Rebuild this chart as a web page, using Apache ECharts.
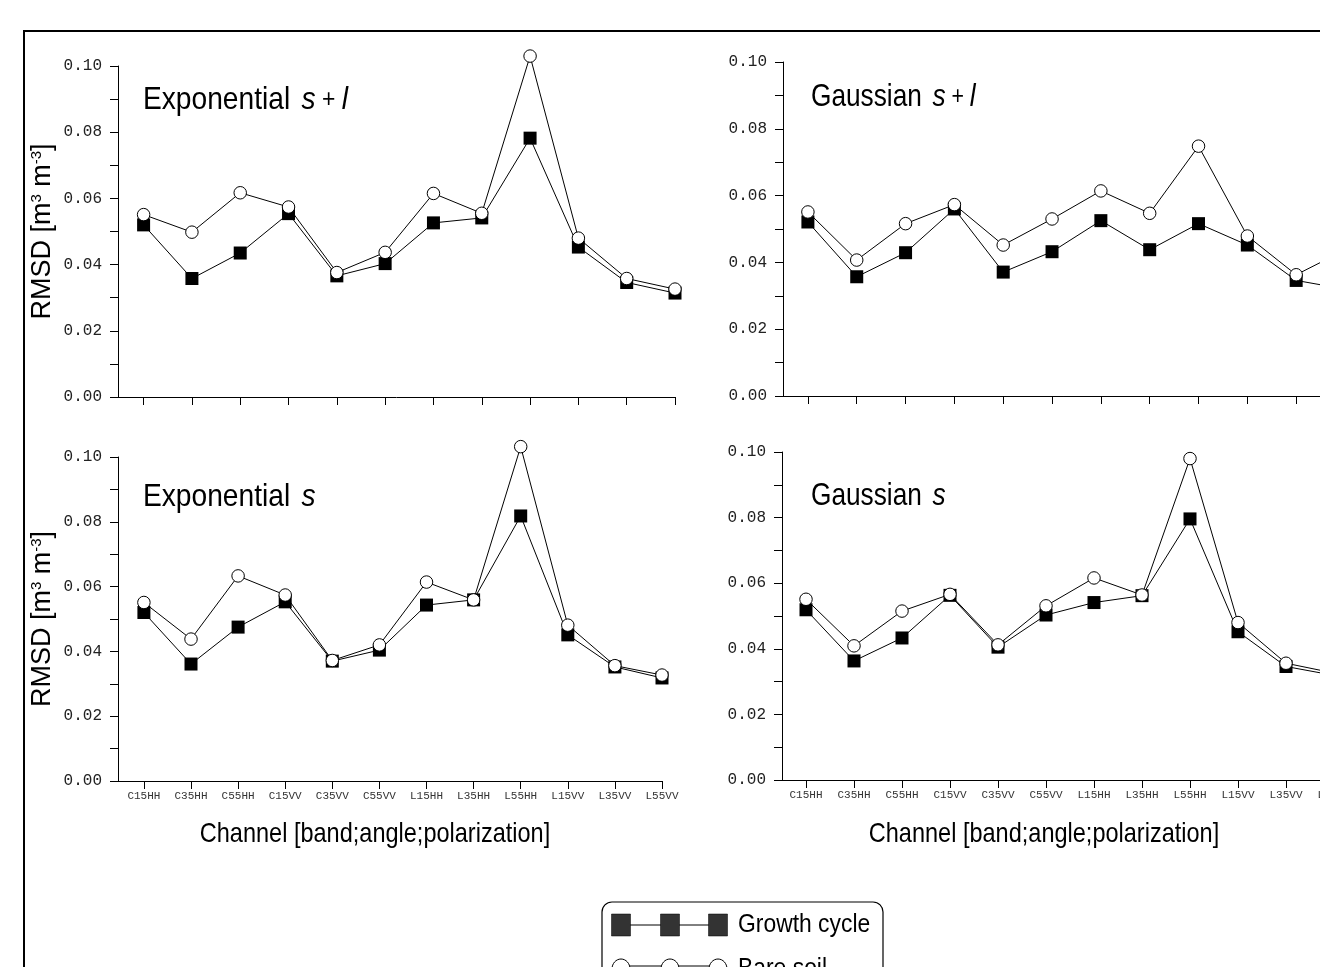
<!DOCTYPE html>
<html><head><meta charset="utf-8">
<script src="https://cdn.jsdelivr.net/npm/echarts@6/dist/echarts.min.js"></script>
<style>html,body{margin:0;padding:0;background:#fff;overflow:hidden}#c{width:1420px;height:967px}</style>
</head><body><div id="c"></div>
<script>
// ---- data ----
const channels = ['C15HH','C35HH','C55HH','C15VV','C35VV','C55VV','L15HH','L35HH','L55HH','L15VV','L35VV','L55VV'];
const yTickLabels = ['0.00','0.02','0.04','0.06','0.08','0.10'];
const seriesNames = ['Growth cycle', 'Bare soil'];
const xAxisTitle = 'Channel [band;angle;polarization]';
const panelTitles = [['Exponential', 's', '+', 'l'], ['Gaussian', 's', '+', 'l'], ['Exponential', 's'], ['Gaussian', 's']];

const expSL_growth = [0.052, 0.0358, 0.0435, 0.0554, 0.0366, 0.0403, 0.0526, 0.0541, 0.0782, 0.0453, 0.0346, 0.0314];
const expSL_bare   = [0.0551, 0.0498, 0.0617, 0.0574, 0.0376, 0.0437, 0.0615, 0.0555, 0.1030, 0.0480, 0.0358, 0.0326];
const gauSL_growth = [0.0521, 0.0357, 0.0429, 0.0560, 0.0371, 0.0432, 0.0525, 0.0438, 0.0516, 0.0452, 0.0346, 0.0320];
const gauSL_bare   = [0.0551, 0.0407, 0.0516, 0.0573, 0.0452, 0.0530, 0.0614, 0.0547, 0.0748, 0.0479, 0.0363, 0.0437];
const expS_growth  = [0.0520, 0.0361, 0.0475, 0.0553, 0.0370, 0.0404, 0.0543, 0.0559, 0.0818, 0.0451, 0.0352, 0.0318];
const expS_bare    = [0.0551, 0.0438, 0.0633, 0.0574, 0.0372, 0.0420, 0.0614, 0.0559, 0.1032, 0.0481, 0.0356, 0.0327];
const gauS_growth  = [0.0519, 0.0363, 0.0433, 0.0563, 0.0405, 0.0503, 0.0541, 0.0562, 0.0796, 0.0452, 0.0346, 0.0319];
const gauS_bare    = [0.0551, 0.0409, 0.0515, 0.0566, 0.0412, 0.0531, 0.0616, 0.0564, 0.0980, 0.0480, 0.0356, 0.0326];

const panelData = [[expSL_growth, expSL_bare], [gauSL_growth, gauSL_bare], [expS_growth, expS_bare], [gauS_growth, gauS_bare]];

// ---- layout ----
const panels = [
  {left:118, top:66, width:557, height:331, xmin:-0.53, bottom:false, yname:true, tx:143, ty:100, sx:0.88},
  {left:783, top:62, width:562, height:334, xmin:-0.51, bottom:false, yname:false, tx:811, ty:97, sx:0.82},
  {left:118, top:457, width:544, height:324, xmin:-0.55, bottom:true, yname:true, tx:143, ty:497, sx:0.88, nx:375},
  {left:782, top:452, width:552, height:328, xmin:-0.50, bottom:true, yname:false, tx:811, ty:496, sx:0.82, nx:1044}
];
const SANS = '"Liberation Sans",Arial,sans-serif';
const MONO = '"Liberation Mono","DejaVu Sans Mono",monospace';
const idx = channels.map((c,i)=>i);

const grids = [], xAxes = [], yAxes = [], series = [], graphics = [];
panels.forEach((p, i) => {
  grids.push({left:p.left, top:p.top, width:p.width, height:p.height, containLabel:false});
  xAxes.push({
    type:'value', gridIndex:i, min:p.xmin, max:11,
    axisLine:{show:true, onZero:false, lineStyle:{color:'#000', width:1}},
    axisTick:{show:true, customValues:idx, length:8, lineStyle:{color:'#000', width:1}},
    axisLabel:{show:p.bottom, customValues:idx, formatter:(v)=>channels[Math.round(v)],
      fontFamily:MONO, fontSize:11, color:'#333', margin:10},
    splitLine:{show:false}
  });
  yAxes.push({
    type:'value', gridIndex:i, min:0, max:0.1, interval:0.02,
    name: p.yname ? '{n|RMSD [m}{s|3}{n| m}{s|-3}{n|]}' : '',
    nameLocation:'middle', nameGap:62,
    nameTextStyle:{rich:{n:{fontFamily:SANS, fontSize:27, color:'#000'},
                         s:{fontFamily:SANS, fontSize:15, color:'#000', verticalAlign:'top'}}},
    axisLine:{show:true, onZero:false, lineStyle:{color:'#000', width:1}},
    axisTick:{show:true, length:8, lineStyle:{color:'#000', width:1}},
    minorTick:{show:true, splitNumber:2, length:8, lineStyle:{color:'#000', width:1}},
    axisLabel:{formatter:(v)=>yTickLabels[Math.round(v/0.02)], fontFamily:MONO, fontSize:16, color:'#222', margin:16},
    splitLine:{show:false}, minorSplitLine:{show:false}
  });
  const [g, b] = panelData[i];
  series.push({
    name:seriesNames[0], type:'line', xAxisIndex:i, yAxisIndex:i, clip:false,
    data:g.map((v,j)=>[j,v]), symbol:'rect', symbolSize:13,
    itemStyle:{color:'#000'}, lineStyle:{color:'#000', width:1}, z:2, animation:false
  });
  series.push({
    name:seriesNames[1], type:'line', xAxisIndex:i, yAxisIndex:i, clip:false,
    data:b.map((v,j)=>[j,v]), symbol:'circle', symbolSize:12.5,
    itemStyle:{color:'#fff', borderColor:'#000', borderWidth:1}, lineStyle:{color:'#000', width:1}, z:3, animation:false
  });
  const t = panelTitles[i];
  let txt = '{a|' + t[0] + '}{g| }{i|' + t[1] + '}';
  if (t.length > 2) txt += '{p| ' + t[2] + ' }{i|' + t[3] + '}';
  graphics.push({
    type:'text', x:p.tx, y:p.ty, z:10, scaleX:p.sx,
    style:{text:txt, verticalAlign:'middle', align:'left',
      rich:{a:{fontFamily:SANS, fontSize:32, color:'#000'},
            g:{fontFamily:SANS, fontSize:32, color:'#000', padding:[0,4,0,0]},
            i:{fontFamily:SANS, fontSize:32, fontStyle:'italic', color:'#000'},
            p:{fontFamily:SANS, fontSize:26, color:'#000'}}}
  });
  if (p.bottom) {
    graphics.push({type:'text', x:p.nx, y:834, z:10, scaleX:0.84,
      style:{text:xAxisTitle, fontFamily:SANS, fontSize:28, fill:'#000', align:'center', verticalAlign:'middle'}});
  }
});

// outer frame
graphics.push({type:'rect', shape:{x:24, y:31, width:1500, height:1000}, style:{fill:'none', stroke:'#000', lineWidth:2}, z:0});
// legend
const lgX = [621, 670, 718], lgY = [925, 966];
graphics.push({type:'rect', shape:{x:602, y:902, width:281, height:120, r:10}, style:{fill:'#fff', stroke:'#000', lineWidth:1.2}, z:1});
lgY.forEach((y, k) => {
  graphics.push({type:'line', shape:{x1:lgX[0], y1:y, x2:lgX[2], y2:y}, style:{stroke:'#000', lineWidth:1}, z:2});
  lgX.forEach(x => {
    if (k === 0) graphics.push({type:'rect', shape:{x:x-9.5, y:y-11, width:19, height:22}, style:{fill:'#333', stroke:'#000', lineWidth:0.5}, z:3});
    else graphics.push({type:'ellipse', shape:{cx:x, cy:y+3, rx:9, ry:10}, style:{fill:'#fff', stroke:'#000', lineWidth:1}, z:3});
  });
  graphics.push({type:'text', x:738, y:y + (k ? 3 : 0), z:3, scaleX:0.88, style:{text:seriesNames[k], fontFamily:SANS, fontSize:26, fill:'#000', verticalAlign:'middle'}});
});

const chart = echarts.init(document.getElementById('c'), null, {renderer:'canvas'});
chart.setOption({
  animation:false, backgroundColor:'#fff',
  grid:grids, xAxis:xAxes, yAxis:yAxes, series:series, graphic:graphics
});
</script></body></html>
